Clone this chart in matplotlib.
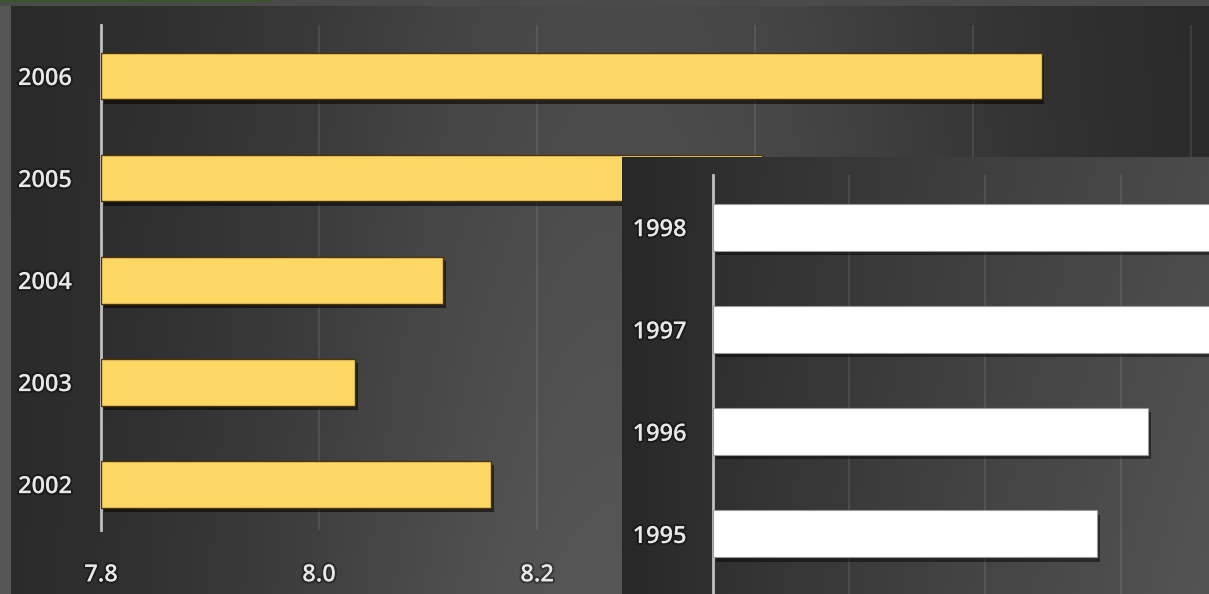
import numpy as np
import matplotlib
matplotlib.use("Agg")
import matplotlib.pyplot as plt
import matplotlib.patheffects as pe

# ---- data ----
main_years = ["2002", "2003", "2004", "2005", "2006"]
main_values = [8.158, 8.033, 8.114, 8.406, 8.663]
main_ticks = [7.8, 8.0, 8.2, 8.4, 8.6, 8.8]
main_ticklabels = ["7.8", "8.0", "8.2", "", "", ""]

inset_years = ["1995", "1996", "1997", "1998"]
inset_values = [8.365, 8.44, 8.62, 8.70]
inset_ticks = [7.8, 8.0, 8.2, 8.4]

W, H = 1209, 594
fig = plt.figure(figsize=(W / 100, H / 100), dpi=100)

FONT = ["Open Sans", "DejaVu Sans"]
TXT = "#e8e8e8"

# ---- full background (outer strips + main panel) ----
yy, xx = np.mgrid[0:H, 0:W].astype(float)
b = 0x28 + (0x56 - 0x28) * np.exp(-((xx - 620) / 380.0) ** 2) * (0.72 + 0.28 * yy / H)
img = np.stack([b, b, b], axis=-1) / 255.0
img[:, :11, :] = np.array([0x55, 0x55, 0x55]) / 255.0
img[:6, :, :] = np.array([0x4a, 0x4a, 0x4a]) / 255.0
img[:2, :270, :] = np.array([0x3a, 0x55, 0x2a]) / 255.0
bg = fig.add_axes([0, 0, 1, 1], zorder=0)
bg.imshow(img, aspect="auto", extent=[0, W, H, 0], interpolation="bilinear")
bg.set_xlim(0, W)
bg.set_ylim(H, 0)
bg.axis("off")

def fx(px):
    return px / W

def fy(py):
    return 1 - py / H

shadow = [pe.SimplePatchShadow(offset=(2, -3), shadow_rgbFace="black", alpha=0.55), pe.Normal()]
txt_fx = [pe.withStroke(linewidth=3, foreground=(0, 0, 0, 0.35))]

# ---- main chart ----
ax_l, ax_r = 101, W
ax_t, ax_b = 25, 530
ax = fig.add_axes([fx(ax_l), fy(ax_b), fx(ax_r) - fx(ax_l), fy(ax_t) - fy(ax_b)], zorder=1)
ax.set_facecolor("none")
ypos = np.arange(len(main_years))
ax.barh(ypos, [v - 7.8 for v in main_values], left=7.8, height=0.46,
        color="#fdd764", edgecolor="#4a3510", linewidth=1.0, zorder=3, path_effects=shadow)
ax.set_xlim(7.8, 7.8 + (ax_r - ax_l) / 1090.0)
ax.set_ylim(-0.45, 4.5)
for t in main_ticks[1:]:
    ax.axvline(t, color="white", alpha=0.09, lw=1.5, zorder=1)
ax.set_xticks(main_ticks)
ax.set_xticklabels(main_ticklabels)
ax.set_yticks(ypos)
ax.set_yticklabels(main_years)
ax.tick_params(length=0, colors=TXT)
ax.tick_params(axis="y", pad=21)
ax.tick_params(axis="x", pad=24)
for lab in ax.get_xticklabels() + ax.get_yticklabels():
    lab.set_fontfamily(FONT)
    lab.set_fontsize(17)
    lab.set_fontweight("semibold")
    lab.set_color(TXT)
    lab.set_path_effects(txt_fx)
for s in ["top", "right", "bottom"]:
    ax.spines[s].set_visible(False)
ax.spines["left"].set_color("#c0c0c0")
ax.spines["left"].set_linewidth(2)

# ---- inset panel background ----
px0, py0 = 622, 157
iw, ih = W - px0, H - py0
yy2, xx2 = np.mgrid[0:ih, 0:iw].astype(float)
b2 = 0x27 + (0x54 - 0x27) * (xx2 / iw) ** 0.85 * (0.8 + 0.2 * yy2 / ih)
img2 = np.stack([b2, b2, b2], axis=-1) / 255.0
bg2 = fig.add_axes([fx(px0), 0, fx(W) - fx(px0), fy(py0)], zorder=2)
bg2.imshow(img2, aspect="auto", extent=[0, iw, ih, 0], interpolation="bilinear")
bg2.axis("off")

# ---- inset chart ----
ix_l, ix_t = 713, 175
ax2 = fig.add_axes([fx(ix_l), 0, fx(W) - fx(ix_l), fy(ix_t)], zorder=3)
ax2.set_facecolor("none")
ypos2 = np.arange(len(inset_years))
ax2.barh(ypos2, [v - 7.8 for v in inset_values], left=7.8, height=0.46,
         color="white", edgecolor="#9a9a9a", linewidth=0.8, zorder=3,
         path_effects=[pe.SimplePatchShadow(offset=(2, -3), shadow_rgbFace="black", alpha=0.45), pe.Normal()])
ax2.set_xlim(7.8, 7.8 + (W - ix_l) / 680.0)
ax2.set_ylim(-0.587, 3.51)
for t in inset_ticks[1:]:
    ax2.axvline(t, color="white", alpha=0.09, lw=1.5, zorder=1)
ax2.set_xticks([])
ax2.set_yticks(ypos2)
ax2.set_yticklabels(inset_years)
ax2.tick_params(length=0, colors=TXT, pad=19)
for lab in ax2.get_yticklabels():
    lab.set_fontfamily(FONT)
    lab.set_fontsize(17)
    lab.set_fontweight("semibold")
    lab.set_color(TXT)
    lab.set_path_effects(txt_fx)
for s in ["top", "right", "bottom"]:
    ax2.spines[s].set_visible(False)
ax2.spines["left"].set_color("#c0c0c0")
ax2.spines["left"].set_linewidth(2)

fig.savefig("out.png", dpi=100)
